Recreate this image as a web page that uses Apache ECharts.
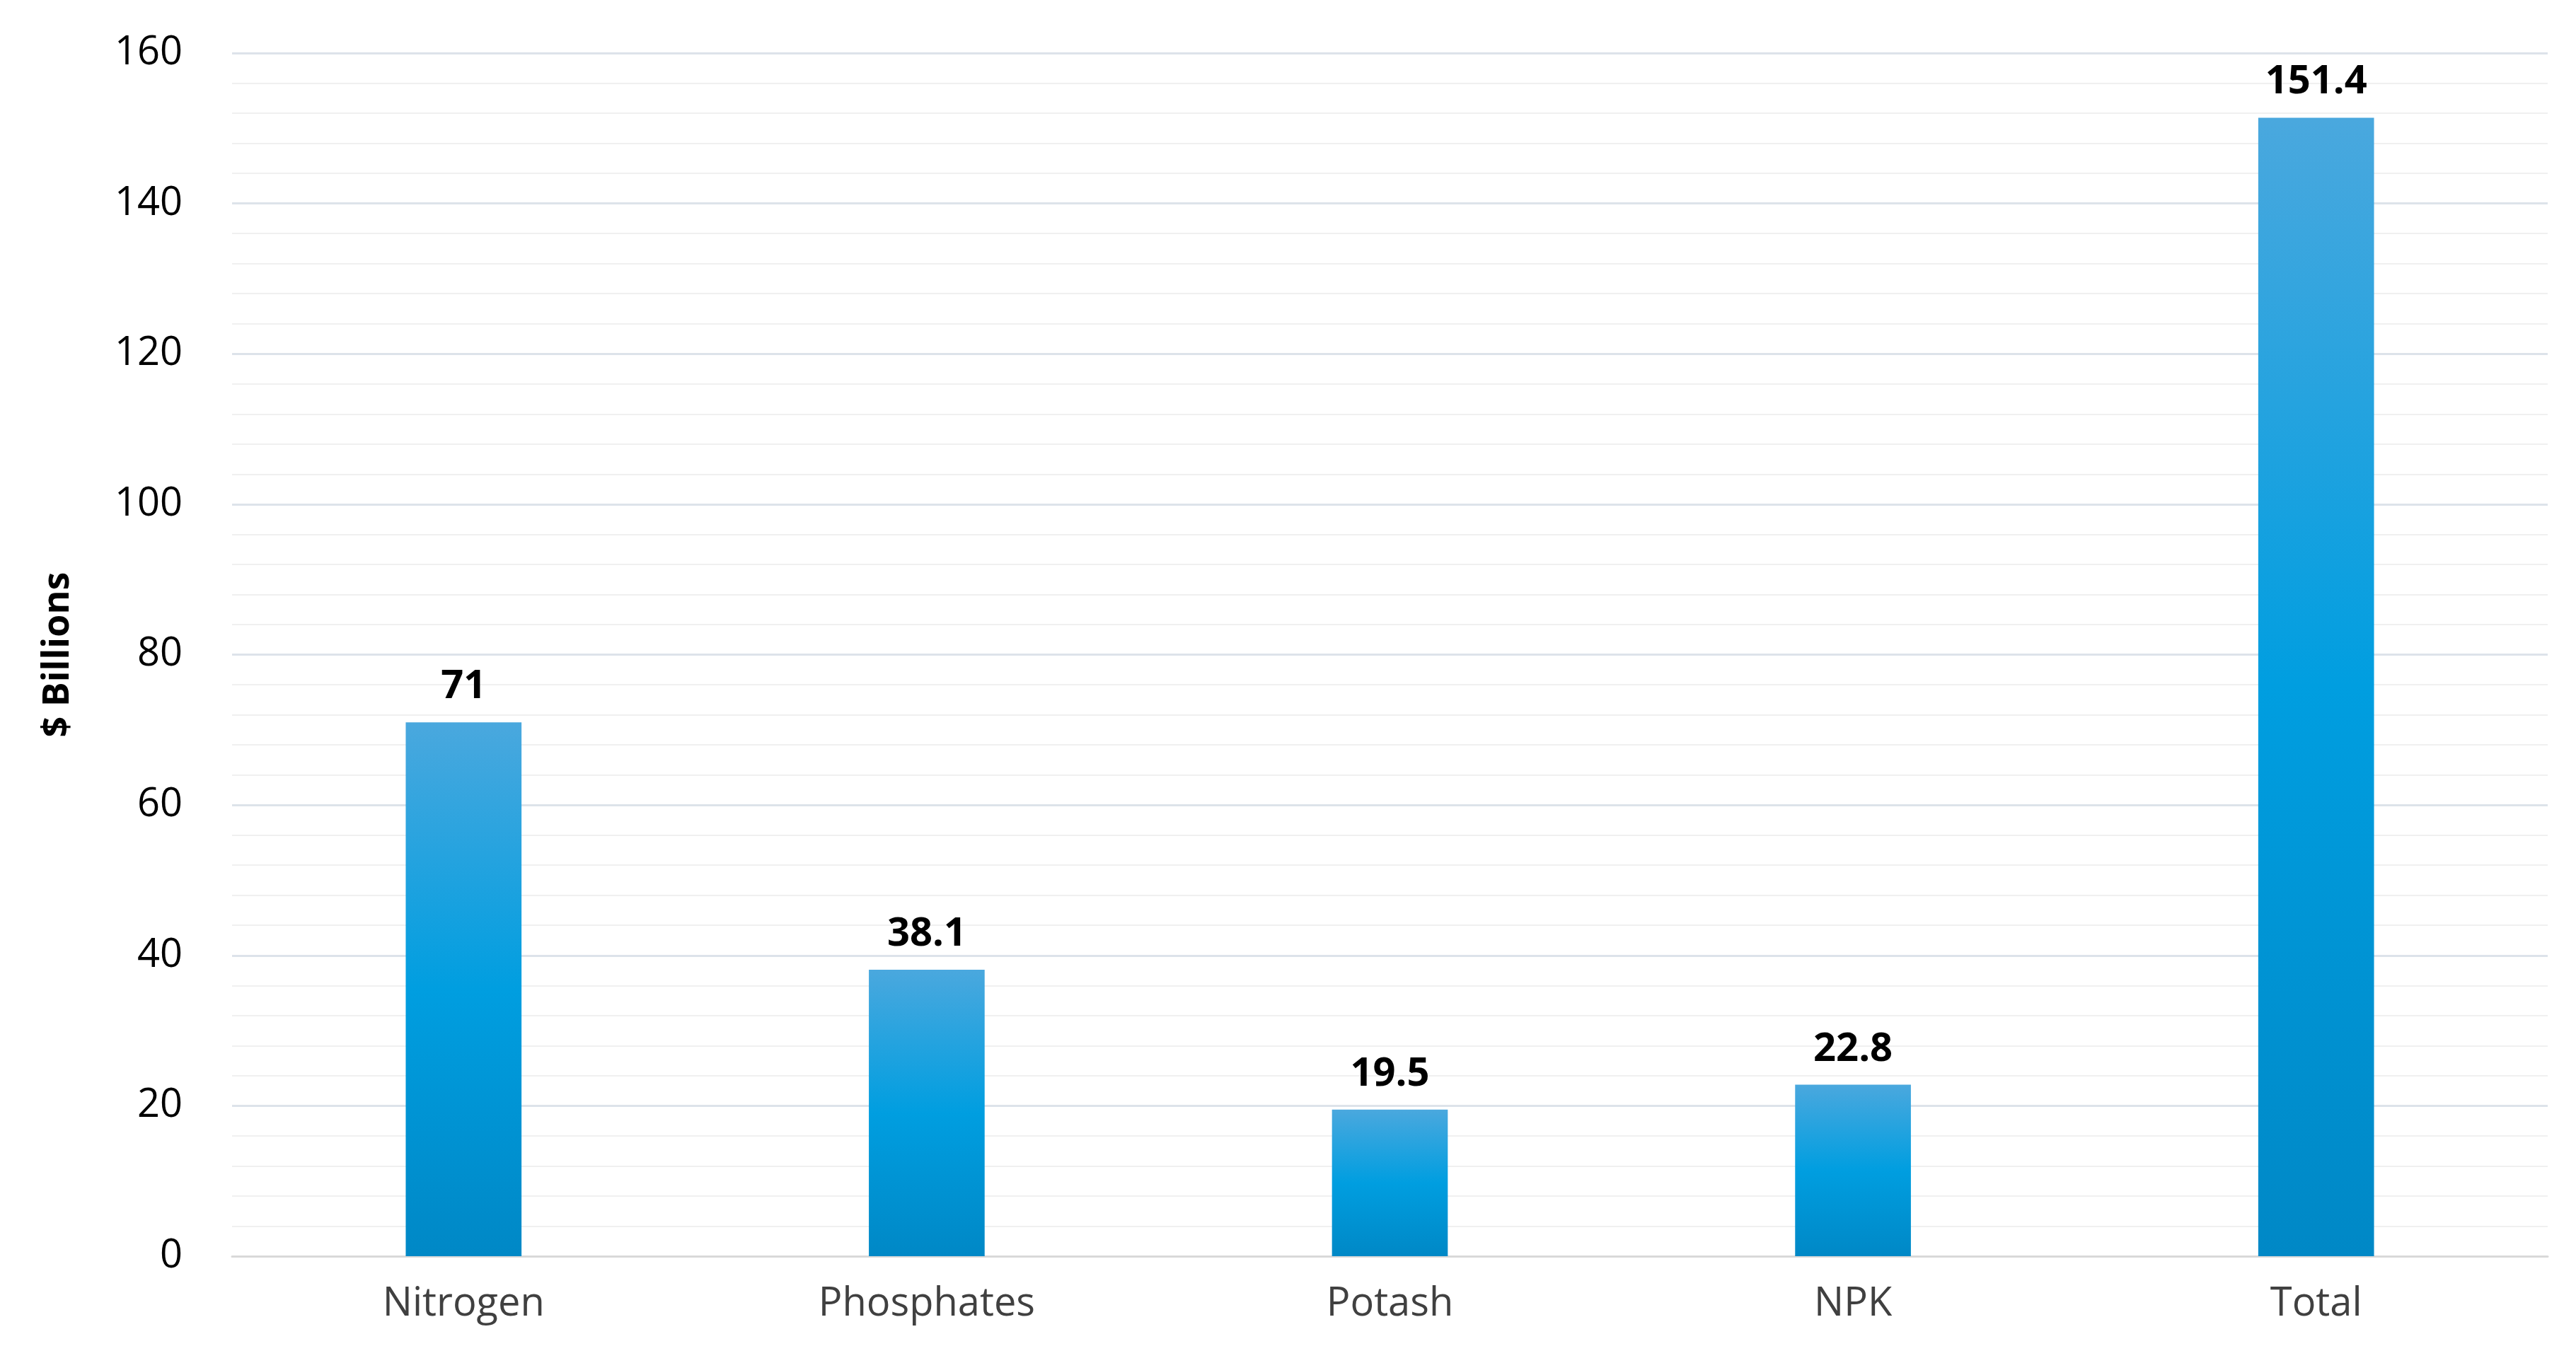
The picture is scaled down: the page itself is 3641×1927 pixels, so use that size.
<!DOCTYPE html>
<html>
<head>
<meta charset="utf-8">
<script src="https://cdn.jsdelivr.net/npm/echarts@6/dist/echarts.min.js"></script>
<style>
  html, body { margin: 0; padding: 0; background: #fff; }
  #chart { width: 3641px; height: 1927px; }
</style>
</head>
<body>
<div id="chart"></div>
<script>
var categories = ["Nitrogen", "Phosphates", "Potash", "NPK", "Total"];
var values = [71, 38.1, 19.5, 22.8, 151.4];
var labels = ["71", "38.1", "19.5", "22.8", "151.4"];

var chart = echarts.init(document.getElementById("chart"));
chart.setOption({
  animation: false,
  grid: { left: 328, right: 40, top: 75, bottom: 151 },
  xAxis: {
    type: "category",
    data: categories,
    axisLine: { lineStyle: { color: "#d9d9d9", width: 3 } },
    axisTick: { show: false },
    axisLabel: { fontFamily: "Open Sans", fontSize: 56, color: "#404040", margin: 40 }
  },
  yAxis: {
    type: "value",
    min: 0,
    max: 160,
    interval: 20,
    name: "$ Billions",
    nameLocation: "middle",
    nameRotate: 90,
    nameGap: 220,
    nameTextStyle: { fontFamily: "Open Sans", fontWeight: "bold", fontSize: 52, color: "#000" },
    axisLine: { show: false },
    axisTick: { show: false },
    axisLabel: { fontFamily: "Open Sans", fontSize: 56, color: "#000", margin: 70 },
    splitLine: { lineStyle: { color: "#dde3ea", width: 3 } },
    minorTick: { show: false, splitNumber: 5 },
    minorSplitLine: { show: true, lineStyle: { color: "#f0f0f0", width: 2 } }
  },
  series: [{
    type: "bar",
    data: values,
    barWidth: "25%",
    itemStyle: {
      color: new echarts.graphic.LinearGradient(0, 0, 0, 1, [
        { offset: 0, color: "#4aa8de" },
        { offset: 0.5, color: "#009ee0" },
        { offset: 1, color: "#0088c6" }
      ])
    },
    label: {
      show: true,
      position: "top",
      distance: 22,
      formatter: function (p) { return labels[p.dataIndex]; },
      fontFamily: "Open Sans",
      fontWeight: "bold",
      fontSize: 56,
      color: "#000"
    }
  }]
});
</script>
</body>
</html>
